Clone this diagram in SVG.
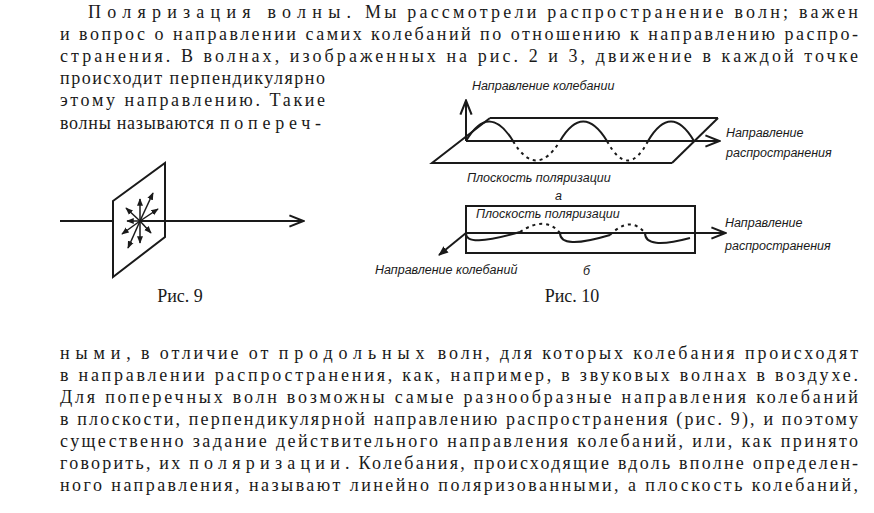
<svg xmlns="http://www.w3.org/2000/svg" width="874" height="513" viewBox="0 0 874 513">
<style>
.t{font-family:"Liberation Serif",serif;font-size:18px;fill:#1a1a1a}
.h{font-family:"Liberation Sans",sans-serif;font-size:12.5px;font-style:italic;fill:#1a1a1a}
.l{fill:none;stroke:#1a1a1a;stroke-width:2}
.d{fill:none;stroke:#1a1a1a;stroke-width:2;stroke-dasharray:3 4}
</style>
<defs>
<marker id="a" viewBox="0 0 10 10" refX="9" refY="5" markerWidth="9" markerHeight="7" orient="auto-start-reverse"><path d="M0,1 L10,5 L0,9" fill="none" stroke="#1a1a1a" stroke-width="1.5"/></marker>
<marker id="s" viewBox="0 0 10 10" refX="9" refY="5" markerWidth="5" markerHeight="5" orient="auto"><path d="M0,1 L10,5 L0,9z" fill="#1a1a1a"/></marker>
</defs>
<rect width="874" height="513" fill="#fff"/>
<g id="text">
<text class="t" x="88" y="18" textLength="770" lengthAdjust="spacing"><tspan letter-spacing="3">Поляризация волны.</tspan> Мы рассмотрели распространение волн; важен</text>
<text class="t" x="60" y="40" textLength="798">и вопрос о направлении самих колебаний по отношению к направлению распро-</text>
<text class="t" x="60" y="62" textLength="798">странения. В волнах, изображенных на рис. 2 и 3, движение в каждой точке</text>
<text class="t" x="60" y="84" textLength="265">происходит перпендикулярно</text>
<text class="t" x="60" y="106" textLength="265">этому направлению. Такие</text>
<text class="t" x="60" y="129" textLength="265">волны называются <tspan letter-spacing="4">попереч-</tspan></text>
<text class="t" x="60" y="359" textLength="798"><tspan letter-spacing="3">ными</tspan>, в отличие от <tspan letter-spacing="3">продольных</tspan> волн, для которых колебания происходят</text>
<text class="t" x="60" y="381" textLength="798">в направлении распространения, как, например, в звуковых волнах в воздухе.</text>
<text class="t" x="60" y="403" textLength="798">Для поперечных волн возможны самые разнообразные направления колебаний</text>
<text class="t" x="60" y="425" textLength="798">в плоскости, перпендикулярной направлению распространения (рис. 9), и поэтому</text>
<text class="t" x="60" y="447" textLength="798">существенно задание действительного направления колебаний, или, как принято</text>
<text class="t" x="60" y="469" textLength="798">говорить, их <tspan letter-spacing="3">поляризации</tspan>. Колебания, происходящие вдоль вполне определен-</text>
<text class="t" x="60" y="491" textLength="798">ного направления, называют линейно поляризованными, а плоскость колебаний,</text>
</g>
<g id="fig9">
<line class="l" x1="60" y1="221" x2="113" y2="221"/>
<line class="l" x1="140" y1="221" x2="302" y2="221" marker-end="url(#a)"/>
<path class="l" d="M113,201 L165,163 L165,237 L113,277 Z"/>
<g stroke="#1a1a1a" stroke-width="1.5" marker-end="url(#s)">
<line x1="140" y1="221" x2="140" y2="199"/>
<line x1="140" y1="221" x2="140" y2="243"/>
<line x1="140" y1="221" x2="153" y2="193"/>
<line x1="140" y1="221" x2="128" y2="248"/>
<line x1="140" y1="221" x2="158" y2="209"/>
<line x1="140" y1="221" x2="122" y2="234"/>
<line x1="140" y1="221" x2="126" y2="208"/>
<line x1="140" y1="221" x2="151" y2="233"/>
<line x1="140" y1="221" x2="127" y2="221"/>
</g>
<text class="t" x="180" y="302" text-anchor="middle">Рис. 9</text>
</g>
<g id="fig10a">
<line class="l" x1="466" y1="141" x2="466" y2="102" marker-end="url(#a)"/>
<path class="l" d="M490,118 L718,118 M672,163 L432,163 L490,118"/>
<line class="l" x1="672" y1="163" x2="718" y2="118"/>
<line class="l" x1="466" y1="141" x2="718" y2="141" marker-end="url(#a)"/>
<path class="l" d="M466,141 Q489,102 513,141 M560,141 Q583,102 607,141 M648,141 Q671,102 694,141"/>
<path class="d" d="M513,141 Q536,180 560,141 M607,141 Q628,180 648,141"/>
<text class="h" x="472" y="90">Направление колебании</text>
<text class="h" x="726" y="137">Направление</text>
<text class="h" x="726" y="157">распространения</text>
<text class="h" x="467" y="182">Плоскость  поляризации</text>
<text class="h" x="555" y="200" font-size="16">а</text>
</g>
<g id="fig10b">
<rect class="l" x="466" y="206" width="229" height="47"/>
<line class="l" x1="466" y1="233" x2="724" y2="233" marker-end="url(#a)"/>
<line class="l" x1="466" y1="233" x2="439" y2="255" marker-end="url(#s)"/>
<path class="l" d="M466,233 Q465,248 520,232 M560,233 Q560,250 610,235 M645,233 Q645,250 690,238"/>
<path class="d" d="M520,232 Q545,215 560,233 M610,235 Q630,215 645,233"/>
<text class="h" x="476" y="218">Плоскость поляризации</text>
<text class="h" x="725" y="227">Направление</text>
<text class="h" x="725" y="250">распространения</text>
<text class="h" x="375" y="274">Направление колебаний</text>
<text class="h" x="583" y="275" font-size="16">б</text>
<text class="t" x="572" y="302" text-anchor="middle">Рис. 10</text>
</g>
</svg>
